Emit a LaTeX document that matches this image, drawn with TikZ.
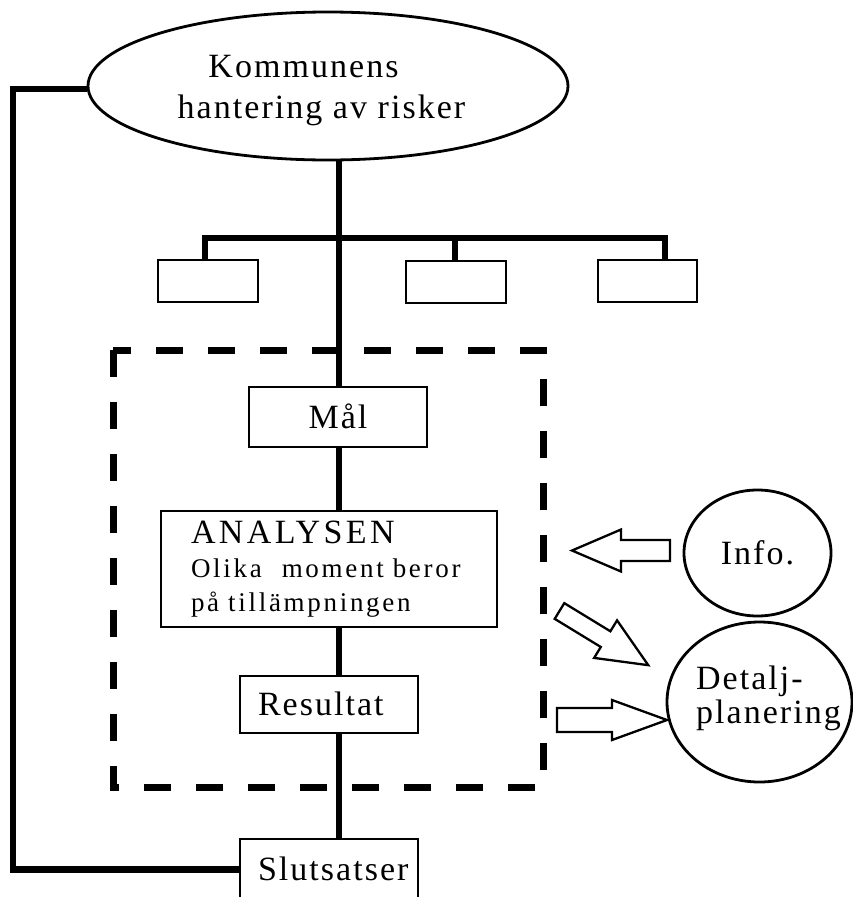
\documentclass[tikz,border=0pt]{standalone}
\usepackage{fontspec}
\setmainfont{Liberation Serif}
\newfontfamily\spfont[LetterSpace=6]{Liberation Serif}
\newfontfamily\spafont[LetterSpace=10]{Liberation Serif}
\newfontfamily\spwfont[LetterSpace=10]{Liberation Serif}
\usetikzlibrary{shapes.geometric}
\begin{document}
\begin{tikzpicture}[x=1pt,y=-1pt,
  thickline/.style={line width=6.5pt},
  boxnode/.style={draw, line width=2.5pt, rectangle, inner sep=0pt},
  ovalnode/.style={draw, line width=2.8pt, ellipse, inner sep=0pt},
  bigtext/.style={font=\spfont\fontsize{34}{41}\selectfont},
  onecap/.style={text height=22pt, text depth=0pt},
  dashbox/.style={line width=7pt, dash pattern=on 27pt off 25pt},
  blockarrow/.style={draw, line width=2.3pt, line join=miter}]

\useasboundingbox (0,0) rectangle (853,897);

% main ellipse
\node[ovalnode, bigtext, align=center, minimum width=480pt, minimum height=148pt] (kom) at (328,86)
  {\rule{0pt}{31pt}Kommunens\kern49pt\\hantering av risker\kern13pt};

% three empty boxes
\node[boxnode, minimum width=100pt, minimum height=42pt] (b1) at (208,281) {};
\node[boxnode, minimum width=100pt, minimum height=42pt] (b2) at (456,282) {};
\node[boxnode, minimum width=99pt, minimum height=42pt] (b3) at (647.5,281) {};

% chain
\node[boxnode, bigtext, onecap, minimum width=178pt, minimum height=60pt] (mal) at (338,417) {Mål};
\node[boxnode, inner xsep=30pt, inner ysep=0pt, text width=276pt, align=left,
      font=\spwfont\fontsize{27}{34}\selectfont,
      minimum width=336pt, minimum height=116pt] (ana) at (329,569)
  {{\spafont\fontsize{34}{34}\selectfont ANALYSEN}\\Olika\hspace{20pt}moment beror\\på tillämpningen};
\node[boxnode, bigtext, onecap, inner xsep=18pt, inner ysep=0pt, text width=142pt, align=left,
      minimum width=178pt, minimum height=57pt] (res) at (329,704.5) {Resultat};
\node[boxnode, bigtext, onecap, inner xsep=18pt, inner ysep=0pt, text width=142pt, align=left,
      minimum width=178pt, minimum height=61pt] (slut) at (329,869.5) {Slutsatser};

% right ellipses
\node[ovalnode, bigtext, onecap, minimum width=147pt, minimum height=126pt] (info) at (757.5,553) {Info.};
\node[ovalnode, font=\spfont\fontsize{34}{34}\selectfont, align=left, inner xsep=-30pt,
      minimum width=185pt, minimum height=160pt] (det) at (759.5,702)
  {\kern18pt Detalj-\\\kern18pt planering\rule[-15pt]{0pt}{0pt}};

% dashed group
\draw[dashbox] (113,350) rectangle (543,787);

% trunk
\coordinate (tx) at (339,0);
\draw[thickline] (kom.south -| tx) -- (mal.north -| tx);
\draw[thickline] (mal.south -| tx) -- (ana.north -| tx);
\draw[thickline] (ana.south -| tx) -- (res.north -| tx);
\draw[thickline] (res.south -| tx) -- (slut.north -| tx);

% branch bar
\coordinate (br1) at (205,238);
\coordinate (br2) at (455,238);
\coordinate (br3) at (665,238);
\draw[thickline] (b1.north -| br1) -- (br1) -- (br3) -- (b3.north -| br3);
\draw[thickline] (br2) -- (b2.north -| br2);

% left feedback line
\coordinate (lx) at (13,0);
\draw[thickline] ([yshift=-3pt]kom.west) -- ([yshift=-3pt]kom.west -| lx) -- (slut.west -| lx) -- (slut.west);

% block arrows
\begin{scope}[shift={(670,550.5)}, rotate=180]
  \draw[blockarrow] (0,-10.5) -- (49,-10.5) -- (49,-21) -- (98,0) -- (49,21) -- (49,10.5) -- (0,10.5) -- cycle;
\end{scope}
\begin{scope}[shift={(559.5,611)}, rotate=-31.4]
  \draw[blockarrow] (0,-9.2) -- (54,-9.2) -- (54,-22) -- (104,0) -- (54,22) -- (54,9.2) -- (0,9.2) -- cycle;
\end{scope}
\begin{scope}[shift={(557,720)}]
  \draw[blockarrow] (0,-12) -- (55,-12) -- (55,-20) -- (110,0) -- (55,20) -- (55,12) -- (0,12) -- cycle;
\end{scope}
\end{tikzpicture}
\end{document}
